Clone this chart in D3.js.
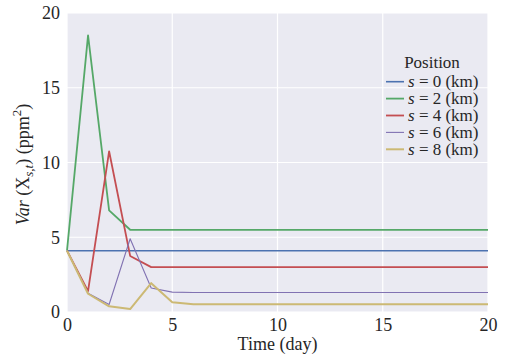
<!DOCTYPE html>
<html>
<head>
<meta charset="utf-8">
<script src="https://cdn.jsdelivr.net/npm/d3@7"></script>
<style>
  body { margin: 0; background: #fff; }
  text { font-family: "Liberation Serif", "DejaVu Serif", serif; fill: #262626; }
</style>
</head>
<body>
<div id="chart"></div>
<script>
// data
const days = d3.range(0, 21);
const s0 = [4.1, 4.1, 4.1, 4.1, 4.1, 4.1, 4.1, 4.1, 4.1, 4.1, 4.1, 4.1, 4.1, 4.1, 4.1, 4.1, 4.1, 4.1, 4.1, 4.1, 4.1];
const s2 = [4.1, 18.5, 6.8, 5.5, 5.5, 5.5, 5.5, 5.5, 5.5, 5.5, 5.5, 5.5, 5.5, 5.5, 5.5, 5.5, 5.5, 5.5, 5.5, 5.5, 5.5];
const s4 = [4.1, 1.4, 10.75, 3.75, 3.0, 3.0, 3.0, 3.0, 3.0, 3.0, 3.0, 3.0, 3.0, 3.0, 3.0, 3.0, 3.0, 3.0, 3.0, 3.0, 3.0];
const s6 = [4.1, 1.25, 0.5, 4.9, 1.6, 1.33, 1.3, 1.3, 1.3, 1.3, 1.3, 1.3, 1.3, 1.3, 1.3, 1.3, 1.3, 1.3, 1.3, 1.3, 1.3];
const s8 = [4.1, 1.22, 0.38, 0.2, 1.93, 0.65, 0.52, 0.52, 0.52, 0.52, 0.52, 0.52, 0.52, 0.52, 0.52, 0.52, 0.52, 0.52, 0.52, 0.52, 0.52];
const seriesNames = ["0", "2", "4", "6", "8"];
const seriesValues = [s0, s2, s4, s6, s8];
const colors = ["#4C72B0", "#55A868", "#C44E52", "#8172B2", "#CCB974"];
const widths = [1.6, 1.8, 1.8, 1.1, 2];
const xTicks = [0, 5, 10, 15, 20];
const yTicks = [0, 5, 10, 15, 20];

const W = 505, H = 363;
const margin = { top: 13, right: 17, bottom: 51, left: 67 };

const svg = d3.select("#chart").append("svg")
  .attr("width", W).attr("height", H);

const x = d3.scaleLinear().domain([0, 20]).range([margin.left, W - margin.right]);
const y = d3.scaleLinear().domain([0, 20]).range([H - margin.bottom, margin.top]);

// background
svg.append("rect")
  .attr("x", x(0)).attr("y", y(20))
  .attr("width", x(20) - x(0)).attr("height", y(0) - y(20))
  .attr("fill", "#EAEAF2");

// grid
svg.append("g").selectAll("line").data(xTicks).join("line")
  .attr("x1", d => x(d)).attr("x2", d => x(d))
  .attr("y1", y(0)).attr("y2", y(20))
  .attr("stroke", "#fff").attr("stroke-width", 1.2);
svg.append("g").selectAll("line").data(yTicks).join("line")
  .attr("x1", x(0)).attr("x2", x(20))
  .attr("y1", d => y(d)).attr("y2", d => y(d))
  .attr("stroke", "#fff").attr("stroke-width", 1.2);

// axes (labels only, no ticks)
const xAxis = svg.append("g")
  .attr("transform", `translate(0,${y(0)})`)
  .call(d3.axisBottom(x).tickValues(xTicks).tickSize(0).tickPadding(6));
const yAxis = svg.append("g")
  .attr("transform", `translate(${x(0)},0)`)
  .call(d3.axisLeft(y).tickValues(yTicks).tickSize(0).tickPadding(7));
[xAxis, yAxis].forEach(g => {
  g.select(".domain").remove();
  g.selectAll("text")
    .attr("font-family", "Liberation Serif")
    .attr("font-size", 18)
    .attr("fill", "#262626");
});

// lines
const line = d3.line().x((d, i) => x(days[i])).y(d => y(d));
svg.append("g").selectAll("path").data(seriesValues).join("path")
  .attr("d", d => line(d))
  .attr("fill", "none")
  .attr("stroke", (d, i) => colors[i])
  .attr("stroke-width", (d, i) => widths[i])
  .attr("stroke-linejoin", "round");

// axis labels
svg.append("text")
  .attr("x", (x(0) + x(20)) / 2).attr("y", 350)
  .attr("text-anchor", "middle")
  .attr("font-size", 18)
  .text("Time (day)");

const yl = svg.append("text")
  .attr("transform", `translate(29,${(y(0) + y(20)) / 2 + 2}) rotate(-90)`)
  .attr("text-anchor", "middle")
  .attr("font-size", 18);
yl.append("tspan").attr("font-style", "italic").text("Var");
yl.append("tspan").text(" (X");
yl.append("tspan").attr("font-style", "italic").attr("font-size", 13).attr("dy", 4).text("s,t");
yl.append("tspan").attr("dy", -4).text(") (ppm");
yl.append("tspan").attr("font-size", 13).attr("dy", -8).text("2");
yl.append("tspan").attr("dy", 8).text(")");

// legend
const legend = svg.append("g");
legend.append("text")
  .attr("x", 432).attr("y", 68)
  .attr("text-anchor", "middle")
  .attr("font-size", 17)
  .text("Position");
const items = legend.selectAll("g.item").data(seriesNames).join("g")
  .attr("class", "item")
  .attr("transform", (d, i) => `translate(0,${81.7 + i * 16.9})`);
items.append("line")
  .attr("x1", 386).attr("x2", 404)
  .attr("y1", 0).attr("y2", 0)
  .attr("stroke", (d, i) => colors[i])
  .attr("stroke-width", (d, i) => widths[i]);
const lt = items.append("text")
  .attr("x", 408).attr("y", 5.5)
  .attr("font-size", 17);
lt.append("tspan").attr("font-style", "italic").text("s");
lt.append("tspan").text(d => ` = ${d} (km)`);
</script>
</body>
</html>
